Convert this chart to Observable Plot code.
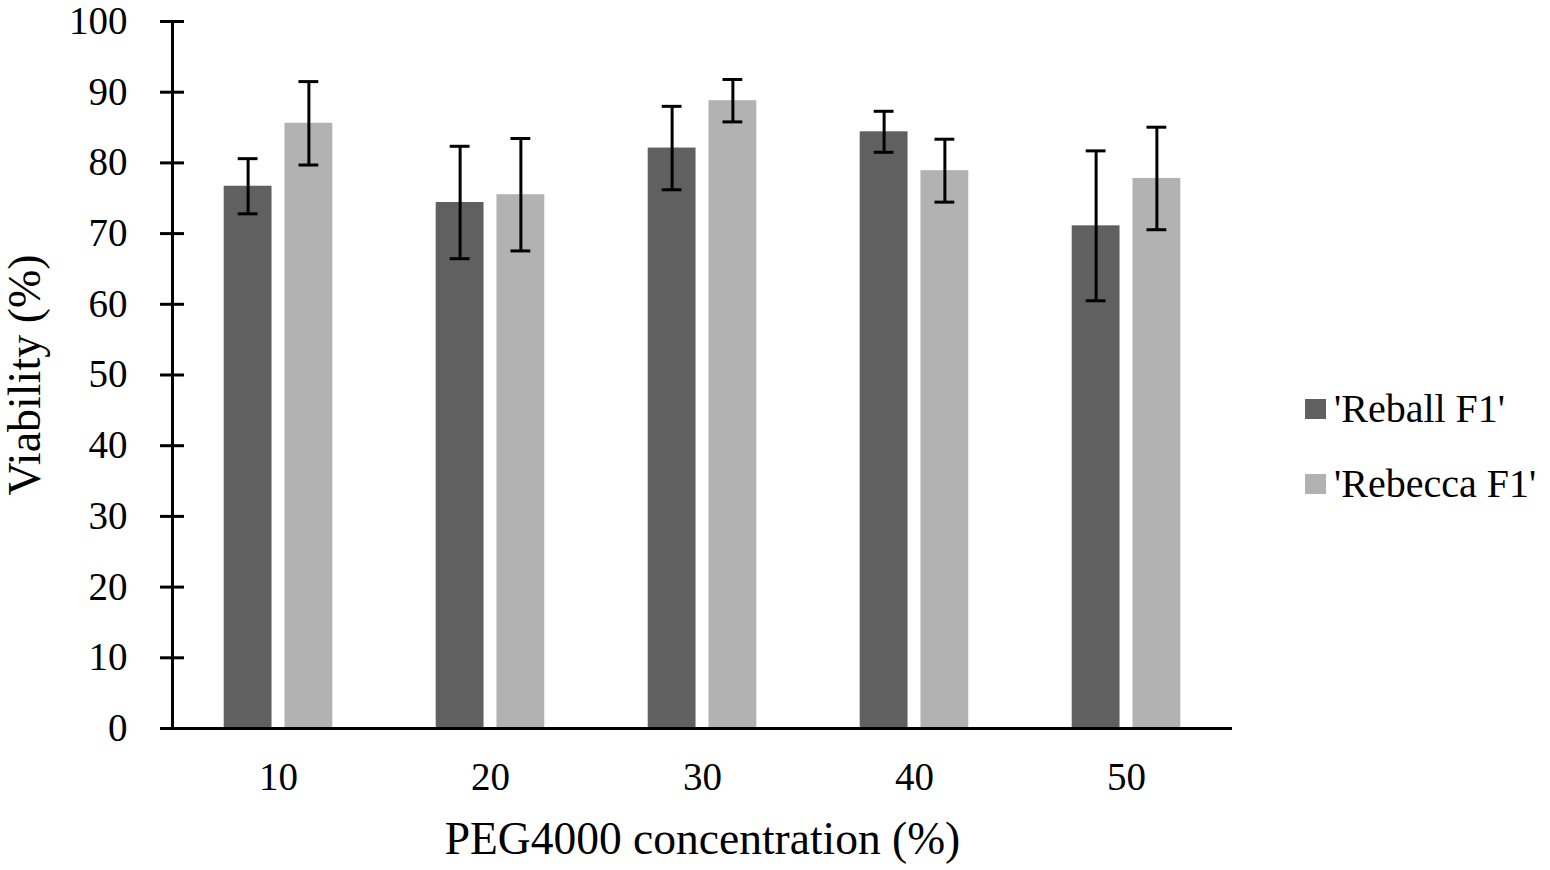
<!DOCTYPE html>
<html>
<head>
<meta charset="utf-8">
<script src="https://cdn.jsdelivr.net/npm/d3@7"></script>
<script src="https://cdn.jsdelivr.net/npm/@observablehq/plot@0.6"></script>
<style>
  html, body { margin: 0; padding: 0; background: #fff; }
  #wrap { position: relative; width: 1550px; height: 870px; overflow: hidden; }
  #legend { position: absolute; left: 1305px; top: 389px; font-family: "Liberation Serif", "Times New Roman", serif; font-size: 40px; color: #000; }
  .row { display: flex; align-items: center; height: 40px; line-height: 40px; margin-bottom: 35px; white-space: nowrap; }
  .sw { width: 21px; height: 20px; margin-right: 8px; }
</style>
</head>
<body>
<div id="wrap"><div id="chart"></div><div id="legend"></div></div>
<script>
const concentrations = [10, 20, 30, 40, 50];
const seriesNames = ["'Reball F1'", "'Rebecca F1'"];
const seriesColors = ["#606060", "#b2b2b2"];
const reball = [76.7, 74.4, 82.1, 84.4, 71.1];
const reballErr = [3.9, 7.95, 5.9, 2.9, 10.6];
const rebecca = [85.6, 75.5, 88.8, 78.9, 77.8];
const rebeccaErr = [5.9, 7.95, 3.0, 4.45, 7.25];
const yTicks = [0, 10, 20, 30, 40, 50, 60, 70, 80, 90, 100];
const xTitle = "PEG4000 concentration (%)";
const yTitle = "Viability (%)";

const rows = [];
concentrations.forEach((c, i) => {
  rows.push({conc: c, series: seriesNames[0], value: reball[i], lo: reball[i] - reballErr[i], hi: reball[i] + reballErr[i]});
  rows.push({conc: c, series: seriesNames[1], value: rebecca[i], lo: rebecca[i] - rebeccaErr[i], hi: rebecca[i] + rebeccaErr[i]});
});

const chart = Plot.plot({
  width: 1550,
  height: 870,
  marginLeft: 170,
  marginRight: 316,
  marginTop: 21,
  marginBottom: 142,
  style: {fontFamily: "'Liberation Serif', 'Times New Roman', serif", fontSize: "39px", color: "#000", background: "#fff"},
  fx: {domain: concentrations, padding: 0, label: null},
  x: {domain: seriesNames, paddingInner: 0.213, paddingOuter: 0.851, axis: null, round: false},
  y: {domain: [0, 100], label: null},
  color: {domain: seriesNames, range: seriesColors},
  marks: [
    Plot.barY(rows, {fx: "conc", x: "series", y: "value", fill: "series"}),
    Plot.ruleX(rows, {fx: "conc", x: "series", y1: "lo", y2: "hi", stroke: "#000", strokeWidth: 3}),
    Plot.tickY(rows, {fx: "conc", x: "series", y: "hi", inset: 14, stroke: "#000", strokeWidth: 3}),
    Plot.tickY(rows, {fx: "conc", x: "series", y: "lo", inset: 14, stroke: "#000", strokeWidth: 3}),
    Plot.ruleY([0], {stroke: "#000", strokeWidth: 3}),
    Plot.frame({anchor: "left", facetAnchor: "left", stroke: "#000", strokeWidth: 3}),
    Plot.axisY({ticks: yTicks, tickSize: 24, dx: 12, tickPadding: 33, strokeWidth: 3, label: null, fontSize: 39}),
    Plot.axisY({ticks: [], label: yTitle, labelAnchor: "center", labelOffset: 165, labelArrow: "none", fontSize: 46}),
    Plot.axisFx({anchor: "bottom", tickSize: 0, tickPadding: 34, label: null, fontSize: 39}),
    Plot.axisFx({anchor: "bottom", ticks: [], label: xTitle, labelAnchor: "center", labelOffset: 125, fontSize: 45.5})
  ]
});
document.getElementById("chart").appendChild(chart);

const legend = document.getElementById("legend");
seriesNames.forEach((name, i) => {
  const row = document.createElement("div");
  row.className = "row";
  const sw = document.createElement("div");
  sw.className = "sw";
  sw.style.background = seriesColors[i];
  const label = document.createElement("span");
  label.textContent = name;
  row.appendChild(sw);
  row.appendChild(label);
  legend.appendChild(row);
});
</script>
</body>
</html>
